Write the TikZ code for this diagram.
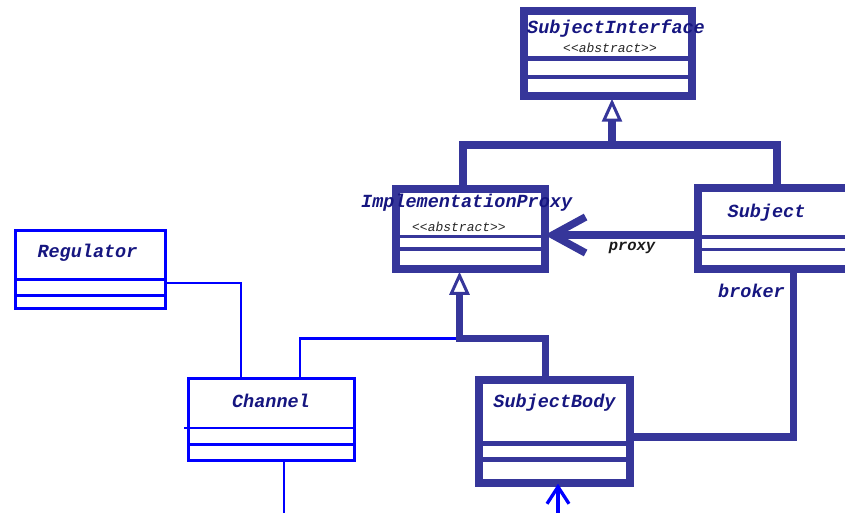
\documentclass[tikz,border=0pt]{standalone}
\usepackage{fontspec}
\newfontfamily\umlmono{Liberation Mono}
\usetikzlibrary{arrows.meta}

\definecolor{umlframe}{RGB}{54,54,154}
\definecolor{umlnavy}{RGB}{22,22,128}
\definecolor{umlblue}{RGB}{0,0,255}

\tikzset{
  heavybox/.style={rectangle, draw=umlframe, line width=7.5pt, inner sep=0pt},
  lightbox/.style={rectangle, draw=umlblue, line width=3pt, inner sep=0pt},
  heavy/.style={draw=umlframe, line width=7.5pt, line join=miter},
  light/.style={draw=umlblue, line width=2.8pt, line join=miter},
  classname/.style={font=\umlmono\bfseries\itshape\fontsize{18.5}{20}\selectfont, text=umlnavy, inner sep=0pt, anchor=base},
  stereotype/.style={font=\umlmono\itshape\fontsize{13}{14}\selectfont, text=black!85, inner sep=0pt, anchor=base},
  rolename/.style={classname},
  inherits/.style={{Triangle[open, length=23pt, width=20pt, line width'=3pt]}-},
}

\begin{document}
\begin{tikzpicture}[x=1pt, y=-1pt]
\useasboundingbox (0,0) rectangle (845,513);
\clip (0,0) rectangle (845,513);

% Class boxes
\node[heavybox, minimum width=168pt, minimum height=85pt] (si) at (608,53.5) {};
\node[heavybox, minimum width=149pt, minimum height=80pt] (ip) at (470.5,229) {};
\node[heavybox, minimum width=172pt, minimum height=81pt] (sub) at (784,228.5) {};
\node[heavybox, minimum width=151pt, minimum height=103pt] (sb) at (554.5,431.5) {};
\node[lightbox, minimum width=150pt, minimum height=78pt] (reg) at (90.5,269.5) {};
\node[lightbox, minimum width=166pt, minimum height=82pt] (ch) at (271.5,419.5) {};

% Compartment lines
\draw[heavy, line width=5pt] ([yshift=-51pt]si.north west) -- ([yshift=-51pt]si.north east);
\draw[heavy, line width=4pt] ([yshift=-69.5pt]si.north west) -- ([yshift=-69.5pt]si.north east);
\foreach \off in {51,63.5}
  \draw[heavy, line width=3.5pt] ([yshift=-\off pt]ip.north west) -- ([yshift=-\off pt]ip.north east);
\foreach \off in {52.5,65}
  \draw[heavy, line width=3.5pt] ([yshift=-\off pt]sub.north west) -- ([yshift=-\off pt]sub.north east);
\foreach \off in {67,83}
  \draw[heavy, line width=5pt] ([yshift=-\off pt]sb.north west) -- ([yshift=-\off pt]sb.north east);
\foreach \off in {50.5,66.5}
  \draw[light] ([yshift=-\off pt]reg.north west) -- ([yshift=-\off pt]reg.north east);
\draw[light] ([xshift=-3pt,yshift=-51pt]ch.north west) -- ([yshift=-51pt]ch.north east);
\draw[light] ([yshift=-67.5pt]ch.north west) -- ([yshift=-67.5pt]ch.north east);

% Class names
\node[classname, anchor=base west] (si-name) at (527,33.5) {SubjectInterface};
\node[stereotype] (si-stereo) at (610,53) {<<abstract>>};
\node[classname, anchor=base west] (ip-name) at (361,207) {ImplementationProxy};
\node[stereotype] (ip-stereo) at (459,231) {<<abstract>>};
\node[classname] (sub-name) at (766.5,217.5) {Subject};
\node[classname] (sb-name) at (554.5,407) {SubjectBody};
\node[classname] (reg-name) at (87.5,257) {Regulator};
\node[classname] (ch-name) at (271,407) {Channel};

% Thin blue links
\coordinate (ipFork) at (459.5,338.5);
\coordinate (chOut) at (284,520);
\coordinate (sbIn) at (558,520);
\draw[light] ([xshift=28.5pt]ch.north) |- (ipFork);
\draw[light] ([yshift=-13.5pt]reg.east) -| ([xshift=-30.5pt]ch.north);
\draw[light] ([xshift=12.5pt]ch.south) -- (chOut);
\draw[light, line width=3.3pt, -{Straight Barb[length=17pt, width=22pt, sharp]}] (sbIn) -- ([xshift=3.5pt,yshift=3pt]sb.south);

% Generalization to SubjectInterface
\coordinate (siFork) at (612,145);
\draw[heavy] ([xshift=-7.5pt]ip.north) |- (siFork) -| ([xshift=-7pt]sub.north);
\draw[heavy, inherits] ([xshift=4pt,yshift=1pt]si.south) -- (siFork);

% Generalization to ImplementationProxy
\draw[heavy, inherits] ([xshift=-11pt,yshift=1pt]ip.south) -- (ipFork) -| ([xshift=-9pt]sb.north);

% Association proxy
\draw[heavy, -{Straight Barb[length=33pt, width=36pt, sharp]}] ([yshift=-6.5pt]sub.west) -- ([xshift=-4pt,yshift=-6pt]ip.east);
\node[rolename, text=black!90, font=\umlmono\bfseries\itshape\fontsize{15.5}{17}\selectfont] (proxy-label) at (632,250) {proxy};

% Association broker
\draw[heavy] ([xshift=9.5pt]sub.south) |- ([yshift=-5.5pt]sb.east);
\node[rolename] (broker-label) at (751.5,297) {broker};
\end{tikzpicture}
\end{document}
